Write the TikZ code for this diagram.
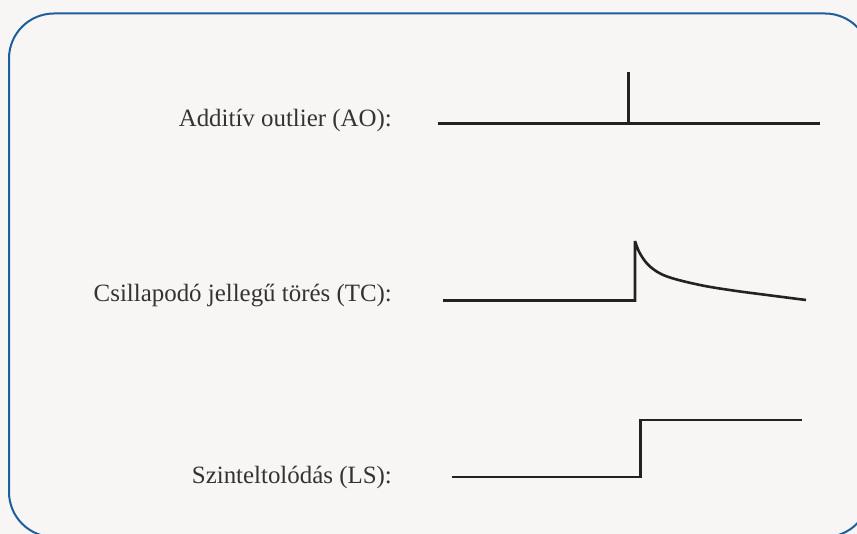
\documentclass[tikz,border=0pt]{standalone}
\usepackage{fontspec}
\setmainfont{Liberation Serif}
\definecolor{bgcol}{HTML}{F7F6F4}
\definecolor{framecol}{HTML}{1D5E9E}
\definecolor{txtcol}{HTML}{333333}
\definecolor{sigcol}{HTML}{222222}
\begin{document}
\begin{tikzpicture}[x=1pt,y=-1pt,
  lbl/.style={anchor=base east, inner sep=0pt, text=txtcol, font=\fontsize{24.9}{29}\selectfont},
  sig/.style={draw=sigcol, line width=2.6pt, line join=miter}]
\useasboundingbox (0,0) rectangle (857,534);
\clip (0,0) rectangle (857,534);
\fill[bgcol] (0,0) rectangle (857,534);
\draw[framecol, line width=2pt, rounded corners=45pt] (9,13.5) rectangle (870,537);
% labels
\node[lbl] (ao) at (392,127) {Additív outlier (AO):};
\node[lbl] (tc) at (392,302) {Csillapodó jellegű törés (TC):};
\node[lbl] (ls) at (392,483) {Szinteltolódás (LS):};
% AO signal
\coordinate (ao1) at (438,123.5);
\coordinate (ao2) at (820,123.5);
\coordinate (aop) at (628.5,123.5);
\coordinate (aot) at (628.5,72.5);
\draw[sig] (ao1) -- (ao2);
\draw[sig] (aop) -- (aot);
% TC signal
\coordinate (tc1) at (443,300.5);
\coordinate (tc2) at (635,300.5);
\coordinate (tc3) at (635,241);
\draw[sig] (tc1) -- (tc2) -- (tc3) plot[smooth, tension=0.6] coordinates
  {(635,241) (640,253.5) (650,266.5) (667,276.5) (700,285) (733,290.5) (767,295) (806,300)};
% LS signal
\coordinate (ls1) at (452,477);
\coordinate (ls2) at (640.5,477);
\coordinate (ls3) at (640.5,420);
\coordinate (ls4) at (802,420);
\draw[sig] (ls1) -- (ls2) -- (ls3) -- (ls4);
\end{tikzpicture}
\end{document}
